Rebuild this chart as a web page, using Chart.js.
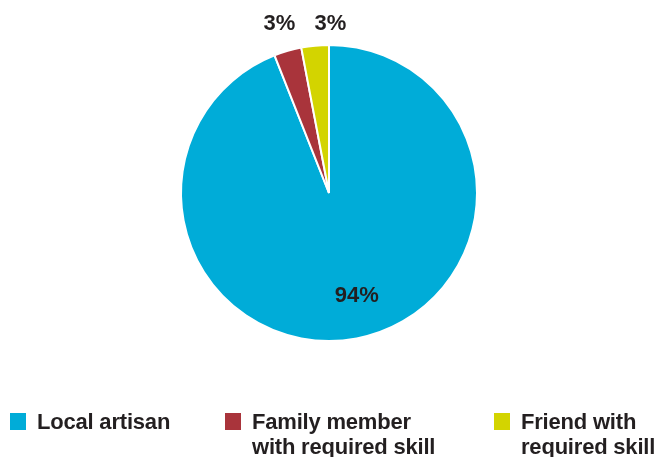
<!DOCTYPE html>
<html>
<head>
<meta charset="utf-8">
<script src="https://cdn.jsdelivr.net/npm/chart.js@4/dist/chart.umd.min.js"></script>
<style>
  html, body { margin: 0; padding: 0; background: #fff; }
  .wrap { position: relative; width: 658px; height: 457px; overflow: hidden; }
  #chartSource { position: absolute; left: 0; top: 0; }
  .legend { position: absolute; left: 0; top: 409px; width: 658px; height: 48px;
    font-family: "Liberation Sans", Arial, sans-serif; font-weight: bold; font-size: 22px;
    line-height: 25px; color: #231f20; letter-spacing: -0.2px; }
  .legend .item { position: absolute; top: 0; }
  .legend .box { position: absolute; left: 0; top: 4px; width: 16px; height: 17px; }
  .legend .text { position: absolute; left: 27px; top: 0; white-space: nowrap; }
</style>
</head>
<body>
<div class="wrap">
  <canvas id="chartSource" width="658" height="457"></canvas>
  <div class="legend" id="chartSourceLegend"></div>
</div>
<script>
  let labels = ["Local artisan", "Family member", "Friend with"];
  let labelsSecondLine = ["", "with required skill", "required skill"];
  let values = [94, 3, 3];
  let colors = ["#00acd8", "#a9343b", "#d3d400"];

  // percent labels: big slices inside, thin ones above the pie, spread apart
  let sliceLabels = {
    id: 'sliceLabels',
    afterDatasetsDraw(chart) {
      let ctx = chart.ctx;
      let arcs = chart.getDatasetMeta(0).data;
      let total = values.reduce((a, b) => a + b, 0);
      let lastOutsideX = null;
      ctx.save();
      ctx.font = 'bold 22px "Liberation Sans", Arial, sans-serif';
      ctx.fillStyle = '#231f20';
      ctx.textAlign = 'center';
      ctx.textBaseline = 'middle';
      arcs.forEach(function(arc, i) {
        let pct = Math.round(values[i] / total * 100);
        let mid = (arc.startAngle + arc.endAngle) / 2;
        let x, y;
        if (pct > 10) {
          let r = arc.outerRadius * 0.71;
          x = arc.x + Math.cos(mid) * r + 8;
          y = arc.y + Math.sin(mid) * r;
        } else {
          x = arc.x + Math.cos(mid) * (arc.outerRadius + 30);
          y = arc.y - arc.outerRadius - 21;
          if (lastOutsideX !== null && x - lastOutsideX < 51) x = lastOutsideX + 51;
          lastOutsideX = x;
        }
        ctx.fillText(pct + '%', x, y);
      });
      ctx.restore();
    }
  };

  let ctx = document.getElementById("chartSource");

  new Chart(ctx, {
    type: 'pie',
    data: {
      labels: labels,
      datasets: [{
        data: values,
        backgroundColor: colors,
        borderColor: '#ffffff',
        borderWidth: 2
      }]
    },
    options: {
      responsive: false,
      animation: false,
      layout: { padding: { top: 44, bottom: 115, left: 180, right: 180 } },
      plugins: {
        legend: { display: false },
        tooltip: { enabled: false }
      }
    },
    plugins: [sliceLabels]
  });

  // legend under the pie, two-line labels
  let legendLeft = [10, 225, 494];
  let legendEl = document.getElementById("chartSourceLegend");
  labels.forEach(function(text, key) {
    let second = labelsSecondLine[key] ? '<br>' + labelsSecondLine[key] : '';
    legendEl.insertAdjacentHTML('beforeend', `
      <div class="item" style="left:${ legendLeft[key] }px">
        <div class="box" style="background:${ colors[key] }"></div>
        <div class="text">${ text }${ second }</div>
      </div>
    `);
  });
</script>
</body>
</html>
